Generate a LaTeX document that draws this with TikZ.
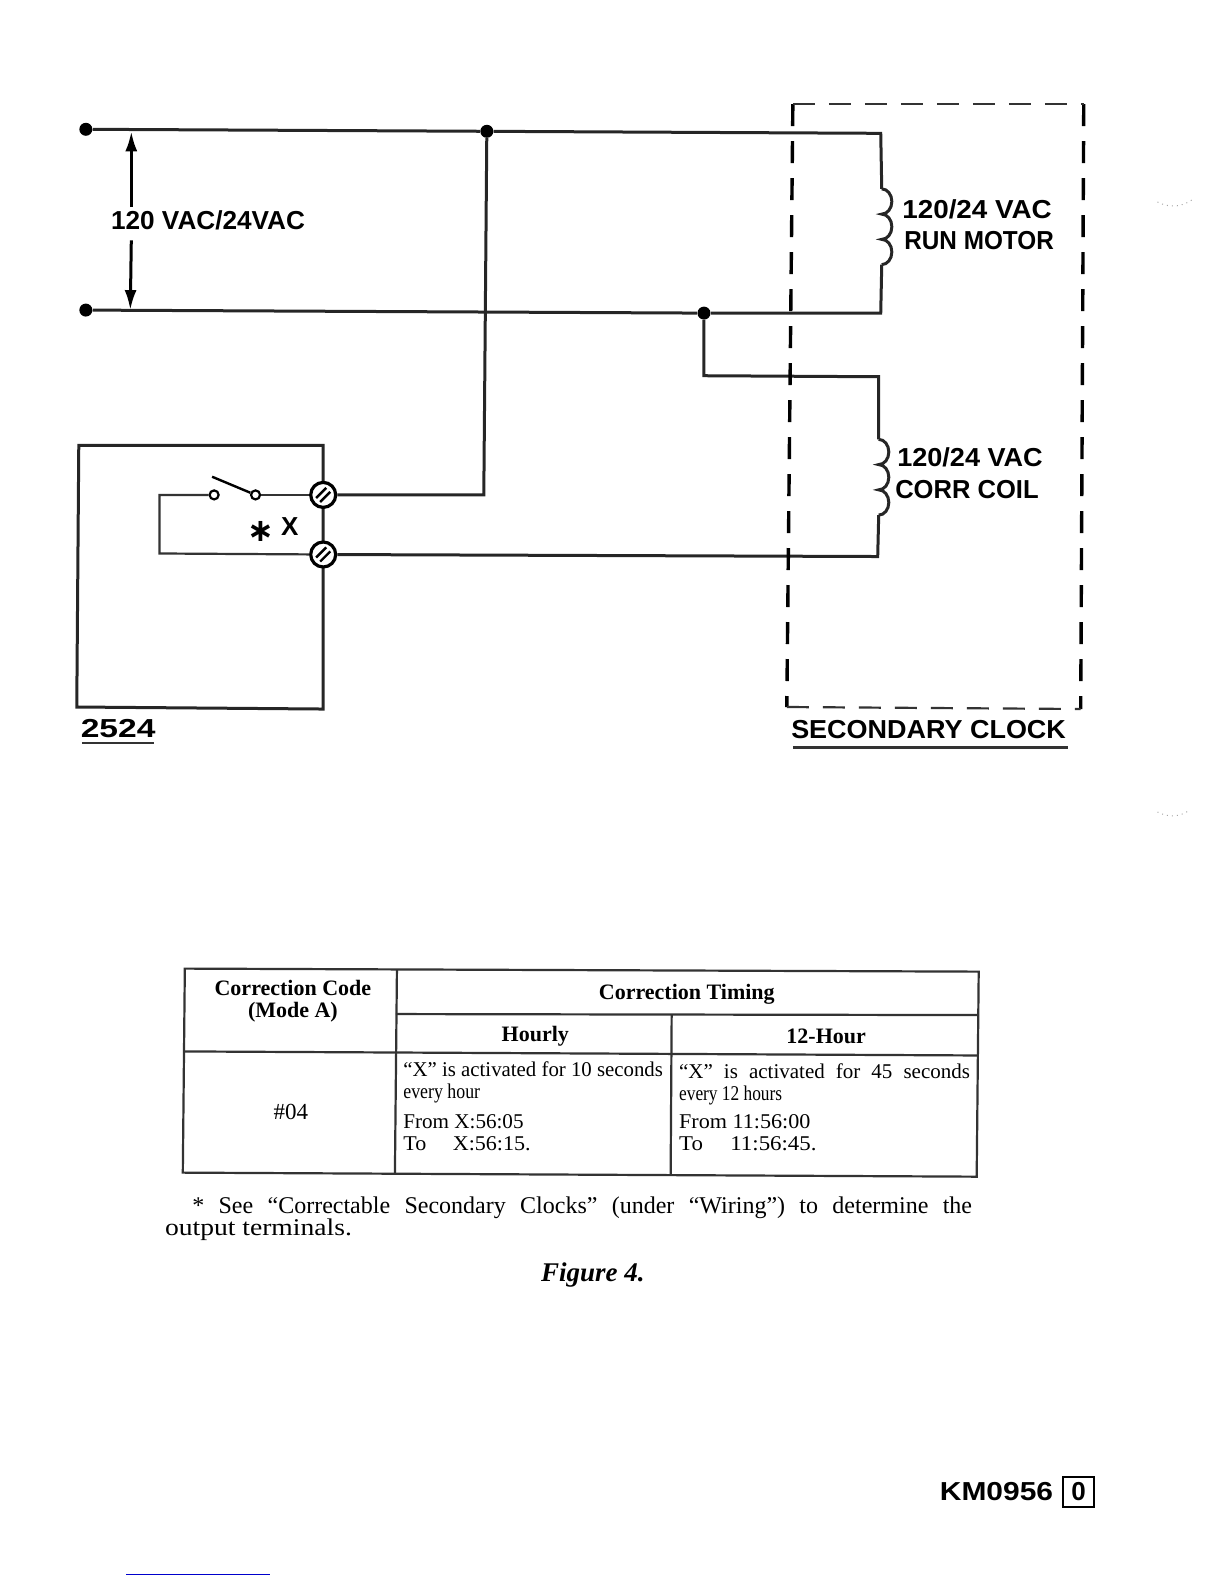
\documentclass[tikz,border=0pt]{standalone}
\usepackage{fontspec}
\usepackage{graphicx}
\setmainfont{Liberation Serif}
\newfontfamily\labelfont{Liberation Sans}
\newfontfamily\symfont{DejaVu Sans}
\usepackage{tikz}
\usetikzlibrary{arrows.meta}
\definecolor{edgeblue}{RGB}{0,0,205}
\newlength{\pxunit}
\setlength{\pxunit}{0.505pt}
\newcommand*{\quoted}[1]{``#1''}
\newcommand*{\fitlabel}[2]{\resizebox{#1\pxunit}{\height}{#2}}

\begin{document}
\begin{tikzpicture}[x=0.505pt,y=-0.505pt,
  wire/.style={line width=1.5pt,black!85,line join=miter},
  frame/.style={line width=1.1pt,black!80},
  dashv/.style={line width=1.7pt,black,dash pattern=on 11pt off 7.5pt},
  dashh/.style={line width=1.1pt,black!80,dash pattern=on 11pt off 7pt},
  dot/.style={circle,fill=black,inner sep=0pt,minimum size=6.5pt},
  contact/.style={circle,draw=black,line width=1.1pt,fill=white,inner sep=0pt,minimum size=4.5pt},
  screw/.style={circle,draw=black,line width=1.6pt,fill=white,inner sep=0pt,minimum size=12.5pt},
  speck/.style={line width=0.5pt,black!35,dotted},
  caplabel/.style={inner sep=0pt,font=\labelfont\bfseries\fontsize{13}{16}\selectfont},
  headcell/.style={inner sep=0pt,align=center,font=\bfseries\fontsize{11}{11}\selectfont},
  bodycell/.style={inner sep=0pt,anchor=west,align=left,font=\fontsize{10.5}{11}\selectfont},
  note/.style={inner sep=0pt,anchor=west,font=\fontsize{12}{12}\selectfont},
  ]
  \useasboundingbox (0,0) rectangle (1212,1568.3);
  \newcommand{\slashes}[1]{
    \draw[line width=1.2pt] ([shift={(-7,3)}]#1.center) -- ([shift={(3,-7)}]#1.center);
    \draw[line width=1.2pt] ([shift={(-3,7)}]#1.center) -- ([shift={(7,-3)}]#1.center);
  }
  \newcommand{\coil}[1]{
    \draw[wire] (#1) arc[start angle=-90,end angle=90,x radius=10,y radius=12.5]
      arc[start angle=-90,end angle=90,x radius=10,y radius=12.5]
      arc[start angle=-90,end angle=90,x radius=10,y radius=12.5];
  }

  % supply lines
  \node[dot] (linea) at (85,128) {};
  \node[dot] (lineb) at (85,307) {};
  \node[dot] (joina) at (482,130) {};
  \node[dot] (joinb) at (697,310) {};
  \coordinate (motora) at (872,132);
  \coordinate (motorb) at (873,187);
  \coordinate (motorc) at (873,262);
  \coordinate (motord) at (872,310);
  \draw[wire] (linea) -- (joina) -- (motora) -- (motorb);
  \draw[wire] (motorc) -- (motord) -- (joinb) -- (lineb);
  \coil{motorb}

  % voltage arrow
  \coordinate (arrowa) at (130,130);
  \coordinate (arrowb) at (130,205);
  \coordinate (arrowc) at (130,238);
  \coordinate (arrowd) at (129,307);
  \draw[-{Latex[length=10pt,width=6pt]},wire,black] (arrowb) -- (arrowa);
  \draw[-{Latex[length=10pt,width=6pt]},wire,black] (arrowc) -- (arrowd);
  \node[caplabel] (supply) at (206,218) {\fitlabel{192}{120 VAC/24VAC}};

  % correction coil
  \coordinate (corra) at (697,372);
  \coordinate (corrb) at (870,373);
  \coordinate (corrc) at (870,435);
  \coordinate (corrd) at (870,510);
  \coordinate (corre) at (869,551);
  \draw[wire] (joinb) -- (corra) -- (corrb) -- (corrc);
  \coil{corrc}

  % 2524 box
  \coordinate (boxa) at (78,441);
  \coordinate (boxb) at (320,441);
  \coordinate (boxc) at (320,702);
  \coordinate (boxd) at (76,700);
  \draw[wire] (boxa) -- (boxb) -- (boxc) -- (boxd) -- cycle;
  \node[screw] (terma) at (320,490) {};
  \node[screw] (termb) at (320,549) {};
  \slashes{terma}
  \slashes{termb}
  \coordinate (wirea) at (479,490);
  \draw[wire] (joina) -- (wirea) -- (terma);
  \draw[wire] (corrd) -- (corre) -- (termb);

  % relay contact
  \coordinate (loopa) at (158,490);
  \coordinate (loopb) at (158,548);
  \coordinate (blade) at (210,472);
  \node[contact] (conta) at (212,490) {};
  \node[contact] (contb) at (253,490) {};
  \draw[frame] (conta) -- (loopa) -- (loopb) -- (termb);
  \draw[frame] (contb) -- (terma);
  \draw[line width=1.2pt] (blade) -- (contb);
  \node[inner sep=0pt,font=\symfont\bfseries\fontsize{16}{16}\selectfont] (star) at (258,526) {∗};
  \node[caplabel] (xlabel) at (287,521) {X};

  \node[caplabel] (unit) at (117,721) {\fitlabel{74}{2524}};
  \coordinate (unita) at (81,736);
  \coordinate (unitb) at (152,736);
  \draw[frame] (unita) -- (unitb);

  % secondary clock
  \coordinate (clocka) at (785,103);
  \coordinate (clockb) at (1073,103);
  \coordinate (clockc) at (1070,702);
  \coordinate (clockd) at (779,700);
  \draw[dashv] (clocka) -- (clockd);
  \draw[dashv] (clockb) -- (clockc);
  \draw[dashh] (clocka) -- (clockb);
  \draw[dashh] (clockd) -- (clockc);
  \node[caplabel,anchor=west] (motortop) at (893,207) {\fitlabel{148}{120/24 VAC}};
  \node[caplabel,anchor=west] (motorbot) at (895,238) {\fitlabel{148}{RUN MOTOR}};
  \node[caplabel,anchor=west] (coiltop) at (888,453) {\fitlabel{144}{120/24 VAC}};
  \node[caplabel,anchor=west] (coilbot) at (886,485) {\fitlabel{142}{CORR COIL}};
  \node[caplabel,anchor=west] (clockname) at (783,722) {\fitlabel{272}{SECONDARY CLOCK}};
  \coordinate (clocke) at (785,740);
  \coordinate (clockf) at (1057,740);
  \draw[frame] (clocke) -- (clockf);

  % table
  \coordinate (taba) at (183,959);
  \coordinate (tabb) at (969,962);
  \coordinate (tabc) at (967,1165);
  \coordinate (tabd) at (181,1161);
  \coordinate (tabe) at (393,960);
  \coordinate (tabf) at (391,1162);
  \coordinate (tabg) at (392,1004);
  \coordinate (tabh) at (968,1005);
  \coordinate (tabi) at (665,1005);
  \coordinate (tabj) at (664,1163);
  \coordinate (tabk) at (182,1041);
  \coordinate (tabl) at (968,1045);
  \draw[frame] (taba) -- (tabb) -- (tabc) -- (tabd) -- cycle;
  \draw[frame] (tabe) -- (tabf);
  \draw[frame] (tabg) -- (tabh);
  \draw[frame] (tabi) -- (tabj);
  \draw[frame] (tabk) -- (tabl);
  \node[headcell] (code) at (290,991) {Correction Code\\(Mode A)};
  \node[headcell] (timing) at (680,984) {Correction Timing};
  \node[headcell] (hourly) at (530,1026) {Hourly};
  \node[headcell] (twelve) at (818,1026) {12-Hour};
  \node[inner sep=0pt,font=\fontsize{11.5}{11}\selectfont] (number) at (288,1101) {\#04};
  \node[bodycell] (hourtext) at (399,1072) {\fitlabel{257}{\quoted{X} is activated for 10 seconds}\\\fitlabel{76}{every hour}};
  \node[bodycell] (hourtime) at (399,1121) {\fitlabel{119}{From X:56:05}\\\fitlabel{126}{To\hspace{1.2em}X:56:15.}};
  \node[bodycell] (twelvetext) at (672,1074) {\makebox[288\pxunit][s]{\quoted{X} is activated for 45 seconds}\\\fitlabel{102}{every 12 hours}};
  \node[bodycell] (twelvetime) at (672,1121) {\fitlabel{130}{From 11:56:00}\\\fitlabel{136}{To\hspace{1.2em}11:56:45.}};

  % notes
  \node[note] (notea) at (190,1196) {\makebox[772\pxunit][s]{* See \quoted{Correctable Secondary Clocks} (under \quoted{Wiring}) to determine the}};
  \node[note] (noteb) at (163,1218) {\fitlabel{185}{output terminals.}};
  \node[inner sep=0pt,font=\bfseries\itshape\fontsize{13.5}{13.5}\selectfont] (figname) at (587,1262) {Figure 4.};

  % part number
  \node[caplabel,anchor=east] (partno) at (1043,1477) {\fitlabel{112}{KM0956}};
  \node[draw=black,line width=1.2pt,caplabel,minimum width=15.5pt,minimum height=15pt] (rev) at (1068,1477) {0};

  % scan marks
  \coordinate (edgea) at (125,1559);
  \coordinate (edgeb) at (267,1559);
  \draw[line width=0.6pt,edgeblue] (edgea) -- (edgeb);
  \coordinate (specka) at (1146,200);
  \coordinate (speckb) at (1180,198);
  \coordinate (speckc) at (1146,804);
  \coordinate (speckd) at (1178,802);
  \draw[speck] (specka) to[bend right=30] (speckb);
  \draw[speck] (speckc) to[bend right=30] (speckd);
\end{tikzpicture}
\end{document}
